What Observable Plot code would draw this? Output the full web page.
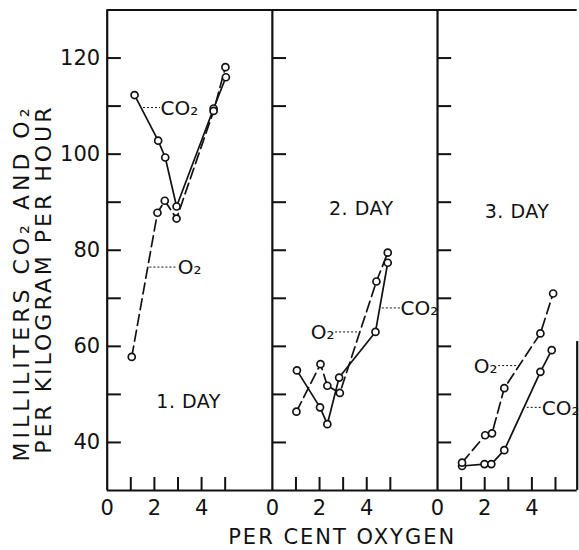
<!DOCTYPE html>
<html><head><meta charset="utf-8">
<script src="https://cdn.jsdelivr.net/npm/d3@7"></script>
<script src="https://cdn.jsdelivr.net/npm/@observablehq/plot@0.6"></script>
<style>body{margin:0;background:#fff} svg{display:block}</style>
</head><body><div id="chart"></div>
<script>
// ---- data ----
const days = ["1. DAY", "2. DAY", "3. DAY"];
const co2Oxygen = [[1.16, 2.16, 2.46, 2.94, 4.51, 5.03], [1.04, 2.02, 2.33, 2.83, 4.37, 4.89], [1.04, 1.99, 2.28, 2.83, 4.36, 4.84]];
const co2Values = [[112.3, 102.8, 99.3, 89.1, 109.5, 116.0], [55.0, 47.3, 43.8, 53.5, 63.0, 77.4], [35.1, 35.5, 35.5, 38.4, 54.7, 59.2]];
const o2Oxygen = [[1.04, 2.13, 2.44, 2.94, 4.51, 5.01], [1.02, 2.04, 2.33, 2.86, 4.41, 4.89], [1.04, 2.02, 2.31, 2.83, 4.36, 4.90]];
const o2Values = [[57.8, 87.8, 90.3, 86.6, 109.0, 118.1], [46.4, 56.3, 51.8, 50.3, 73.5, 79.5], [35.8, 41.5, 41.9, 51.3, 62.7, 71.0]];
const yTickValues = [40, 50, 60, 70, 80, 90, 100, 110, 120];
const yTickLabels = [40, 60, 80, 100, 120];
const xTickValues = [1, 2, 3, 4, 5];
const xTickLabels = [0, 2, 4];
const yTitle = ["MILLILITERS CO₂ AND O₂", "PER KILOGRAM PER HOUR"];
const xTitle = "PER CENT OXYGEN";
// label placement: [panel, series, leader start (% O2), leader end, level, side]
const seriesLabels = [
  [0, "CO₂", 1.54, 2.26, 109.7, "start"],
  [0, "O₂", 1.81, 2.99, 76.5, "start"],
  [1, "O₂", 2.68, 3.74, 63.0, "end"],
  [1, "CO₂", 4.66, 5.43, 68.0, "start"],
  [2, "O₂", 2.59, 3.52, 56.0, "end"],
  [2, "CO₂", 3.80, 4.42, 47.3, "start"]
];
const dayLabelPos = [[3.45, 48.4], [3.77, 88.7], [3.37, 88.0]];

// ---- layout helpers ----
const panelSpan = 7;
const offsets = days.map((d, i) => i * panelSpan);
const xMax = 2 * panelSpan + 5.92;

const rows = [];
days.forEach((day, i) => {
  co2Oxygen[i].forEach((p, j) => rows.push({panel: i, series: "CO2", x: offsets[i] + p, y: co2Values[i][j]}));
  o2Oxygen[i].forEach((p, j) => rows.push({panel: i, series: "O2", x: offsets[i] + p, y: o2Values[i][j]}));
});
const co2Rows = rows.filter(d => d.series === "CO2");
const o2Rows = rows.filter(d => d.series === "O2");

const yTicks = offsets.flatMap(o => yTickValues.map(v => ({o, v})));
const xTicks = offsets.flatMap(o => xTickValues.map(t => o + t));
const xLabels = offsets.flatMap(o => xTickLabels.map(t => ({x: o + t, t})));
const labels = seriesLabels.map(([p, s, a, b, v, anchor]) => ({x1: offsets[p] + a, x2: offsets[p] + b, y: v, s, anchor}));
const dayLabels = days.map((d, i) => ({x: offsets[i] + dayLabelPos[i][0], y: dayLabelPos[i][1], d}));

const ink = "#111";
const chart = Plot.plot({
  width: 579, height: 550,
  marginLeft: 106.7, marginRight: 2.3, marginTop: 9.5, marginBottom: 60,
  x: {domain: [0, xMax], axis: null},
  y: {domain: [30, 130], axis: null},
  style: {fontFamily: "DejaVu Sans", color: ink, background: "#fff"},
  marks: [
    // frame
    Plot.ruleY([30, 130], {stroke: ink, strokeWidth: 2.2}),
    Plot.ruleX(offsets, {stroke: ink, strokeWidth: 2.2}),
    Plot.ruleX([xMax], {y1: 30, y2: 61, stroke: ink, strokeWidth: 2.2}),
    // inner ticks
    Plot.ruleY(yTicks, {x1: d => d.o, x2: d => d.o + 0.6, y: "v", stroke: ink, strokeWidth: 2}),
    Plot.ruleX(xTicks, {y1: 30, y2: 32.7, stroke: ink, strokeWidth: 2}),
    // tick labels
    Plot.text(xLabels, {x: "x", y: 30, text: d => String(d.t), dy: 18, fontSize: 21, fill: ink}),
    Plot.text(yTickLabels, {x: 0, y: d => d, text: d => String(d), dx: -7, textAnchor: "end", fontSize: 21, fill: ink}),
    // series
    Plot.line(co2Rows, {x: "x", y: "y", z: "panel", stroke: ink, strokeWidth: 1.7}),
    Plot.line(o2Rows, {x: "x", y: "y", z: "panel", stroke: ink, strokeWidth: 1.7, strokeDasharray: "11,5"}),
    Plot.dot(rows, {x: "x", y: "y", r: 3.5, fill: "#fff", stroke: ink, strokeWidth: 1.7}),
    // series labels with dotted leaders
    Plot.ruleY(labels, {x1: "x1", x2: "x2", y: "y", stroke: ink, strokeWidth: 1, strokeDasharray: "2,2"}),
    Plot.text(labels.filter(d => d.anchor === "start"), {x: "x2", y: "y", text: "s", textAnchor: "start", dy: 1, fontSize: 20, fill: ink}),
    Plot.text(labels.filter(d => d.anchor === "end"), {x: "x1", y: "y", text: "s", textAnchor: "end", dx: -1, dy: 1, fontSize: 20, fill: ink}),
    // day labels
    Plot.text(dayLabels, {x: "x", y: "y", text: "d", fontSize: 19, fill: ink, ariaDescription: "daylabel"}),
    // axis titles
    Plot.text([yTitle[0]], {frameAnchor: "top-left", lineAnchor: "middle", dx: -85, dy: 94.5, rotate: -90, textAnchor: "end", fontSize: 22, fill: ink, ariaDescription: "ytitle1"}),
    Plot.text([yTitle[1]], {frameAnchor: "top-left", lineAnchor: "middle", dx: -63.7, dy: 94.5, rotate: -90, textAnchor: "end", fontSize: 22, fill: ink, ariaDescription: "ytitle2"}),
    Plot.text([xTitle], {frameAnchor: "bottom", lineAnchor: "middle", dy: 47, fontSize: 21, fill: ink, ariaDescription: "xtitle"})
  ]
});
const spacing = {ytitle1: "4px", ytitle2: "3px", xtitle: "2px", daylabel: "0.5px"};
for (const [k, v] of Object.entries(spacing)) {
  chart.querySelectorAll(`[aria-description="${k}"] text`).forEach(t => t.style.letterSpacing = v);
}
document.getElementById("chart").appendChild(chart);
</script>
</body></html>
